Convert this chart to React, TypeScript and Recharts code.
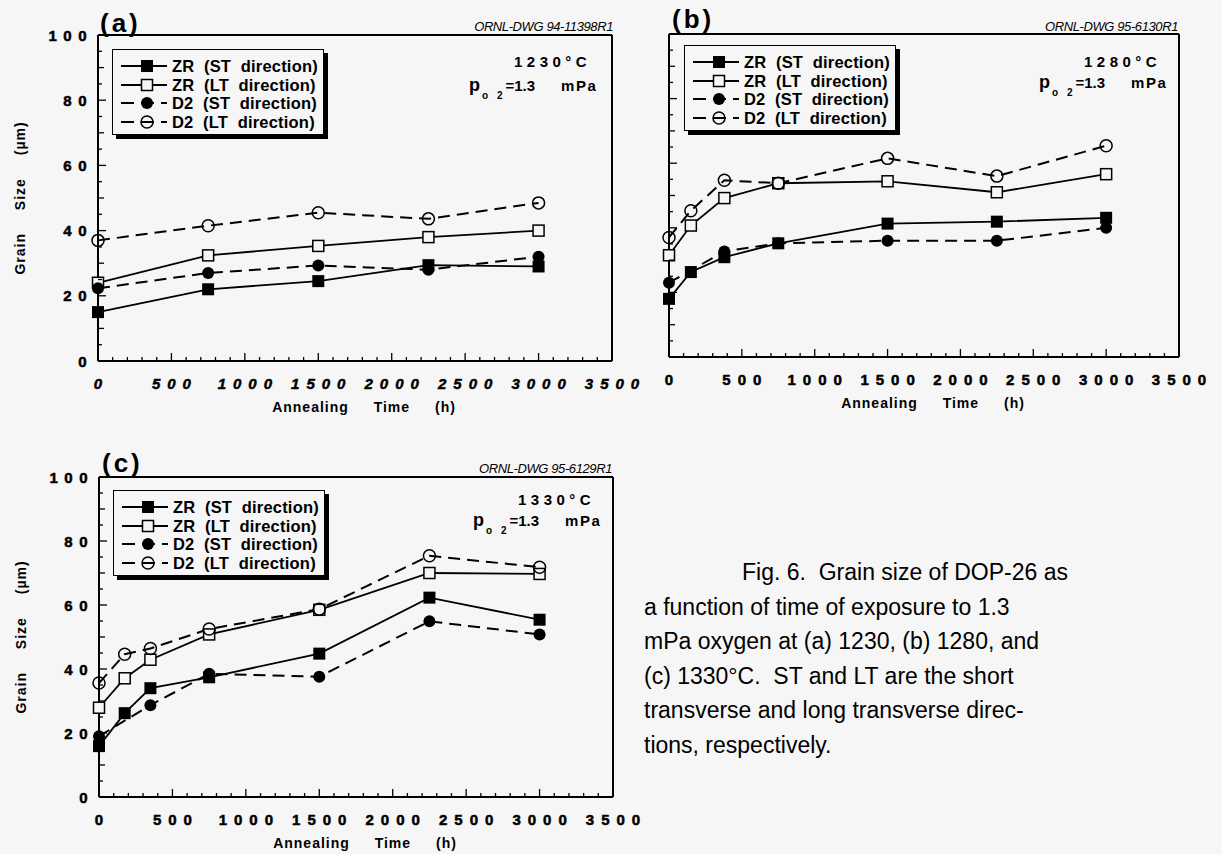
import React from 'react'
import { LineChart, Line, XAxis, YAxis, Legend } from 'recharts'

const BG = '#f6f6f6'
const FONT = '"Liberation Sans", Arial, Helvetica, sans-serif'

// (a) 1230°C
const timesA = [0, 750, 1500, 2250, 3000]
const zrStA = [15, 22, 24.5, 29.4, 29]
const zrLtA = [24, 32.4, 35.3, 38, 40]
const d2StA = [22.3, 27, 29.3, 28, 32]
const d2LtA = [37, 41.5, 45.5, 43.6, 48.5]

// (b) 1280°C
const timesB = [0, 150, 380, 750, 1500, 2250, 3000]
const timesBD2St = [0, 380, 750, 1500, 2250, 3000]
const zrStB = [18, 26.3, 30.9, 35.2, 41.3, 41.9, 43.1]
const zrLtB = [31.5, 40.7, 49.2, 53.8, 54.4, 51, 56.6]
const d2StB = [23, 32.7, 35.2, 36, 36, 40]
const d2LtB = [37, 45.3, 54.7, 53.8, 61.5, 56, 65.4]

// (c) 1330°C
const timesC = [0, 175, 350, 750, 1500, 2250, 3000]
const timesCD2St = [0, 350, 750, 1500, 2250, 3000]
const zrStC = [15.9, 26.2, 34, 37.4, 44.8, 62.3, 55.4]
const zrLtC = [27.9, 37.1, 42.9, 50.8, 58.5, 70, 69.7]
const d2StC = [19, 28.7, 38.5, 37.6, 54.9, 50.8]
const d2LtC = [35.6, 44.6, 46.4, 52.5, 58.7, 75.4, 71.8]

const xLabels = [0, 500, 1000, 1500, 2000, 2500, 3000, 3500]
const yLabels = [0, 20, 40, 60, 80, 100]
const seriesNames = ['ZR  (ST  direction)', 'ZR  (LT  direction)', 'D2  (ST  direction)', 'D2  (LT  direction)']
const markerKinds = ['sqFill', 'sqOpen', 'ciFill', 'ciOpen']
const dashed = [false, false, true, true]

const captionLines = [
  'Fig. 6.  Grain size of DOP-26 as',
  'a function of time of exposure to 1.3',
  'mPa oxygen at (a) 1230, (b) 1280, and',
  '(c) 1330°C.  ST and LT are the short',
  'transverse and long transverse direc-',
  'tions, respectively.',
]

// minor tick positions for the frame
const xTicks: number[] = []
for (let t = 0; t <= 3500; t += 100) xTicks.push(t)
const yTicks: number[] = []
for (let v = 0; v <= 100; v += 5) yTicks.push(v)

const zip = (ts: number[], vs: number[]) => ts.map((t, i) => ({ t, v: vs[i] }))

function Marker({ cx, cy, kind }: any) {
  if (cx == null || cy == null) return null
  if (kind === 'sqFill') return <rect x={cx - 6} y={cy - 6} width={12} height={12} fill="#000" />
  if (kind === 'sqOpen')
    return <rect x={cx - 5.5} y={cy - 5.5} width={11} height={11} fill={BG} stroke="#000" strokeWidth={1.5} />
  if (kind === 'ciFill') return <circle cx={cx} cy={cy} r={6} fill="#000" />
  return <circle cx={cx} cy={cy} r={6} fill="none" stroke="#000" strokeWidth={1.5} />
}

const tickFont = {
  fontFamily: FONT,
  fontWeight: 'bold' as const,
  fontSize: 15,
  fill: '#000',
  stroke: '#000',
  strokeWidth: 0.5,
}

function BottomTick({ x, y, payload, italic }: any) {
  const v = payload.value
  const lab = xLabels.includes(v)
  return (
    <g>
      <line x1={x} x2={x} y1={y} y2={y - (lab ? 8 : 4)} stroke="#000" strokeWidth={1.3} />
      {lab && (
        <text x={x + 3.5} y={y + 28} textAnchor="middle" style={{ ...tickFont, letterSpacing: 7, fontStyle: italic ? 'italic' : 'normal' }}>
          {v}
        </text>
      )}
    </g>
  )
}

function TopTick({ x, y, payload }: any) {
  const major = payload.value % 500 === 0
  return <line x1={x} x2={x} y1={y} y2={y + (major ? 8 : 4)} stroke="#000" strokeWidth={1.3} />
}

function LeftTick({ x, y, payload, showLabels }: any) {
  const v = payload.value
  const lab = yLabels.includes(v)
  const len = lab ? 8 : v % 10 === 0 ? 6 : 4
  return (
    <g>
      <line x1={x} x2={x + len} y1={y} y2={y} stroke="#000" strokeWidth={1.3} />
      {lab && showLabels && (
        <text x={x - 5} y={y + 5.5} textAnchor="end" style={{ ...tickFont, letterSpacing: 6.5 }}>
          {v}
        </text>
      )}
    </g>
  )
}

function RightTick({ x, y, payload }: any) {
  const v = payload.value
  const len = yLabels.includes(v) ? 8 : v % 10 === 0 ? 6 : 4
  return <line x1={x} x2={x - len} y1={y} y2={y} stroke="#000" strokeWidth={1.3} />
}

const titleFont = { fontFamily: FONT, fontWeight: 'bold' as const, fontSize: 14, fill: '#000', letterSpacing: 1 }

function XTitle({ px, py }: any) {
  return (
    <text x={px} y={py} textAnchor="middle" style={{ ...titleFont, wordSpacing: 20 }}>
      Annealing Time (h)
    </text>
  )
}

function YTitle({ px, py }: any) {
  return (
    <text x={px} y={py} textAnchor="middle" dominantBaseline="central" transform={`rotate(-90 ${px} ${py})`} style={{ ...titleFont, wordSpacing: 18 }}>
      Grain Size (µm)
    </text>
  )
}

function LegendBox() {
  return (
    <div
      style={{
        position: 'relative',
        width: 212,
        height: 86,
        boxSizing: 'border-box',
        border: '1.5px solid #000',
        boxShadow: '4px 4px 0 #000',
        background: BG,
      }}
    >
      {seriesNames.map((n, i) => (
        <div key={n} style={{ position: 'absolute', left: 8, top: 16 + i * 18.7 - 9, height: 18, display: 'flex', alignItems: 'center' }}>
          <svg width={48} height={18} style={{ display: 'block' }}>
            <line x1={0} x2={46} y1={9} y2={9} stroke="#000" strokeWidth={dashed[i] ? 2 : 1.8} strokeDasharray={dashed[i] ? '13 7' : undefined} />
            <Marker cx={26} cy={9} kind={markerKinds[i]} />
          </svg>
          <span style={{ fontFamily: FONT, fontWeight: 'bold', fontSize: 16.5, letterSpacing: 0.2, whiteSpace: 'pre', marginLeft: 3, lineHeight: '18px' }}>
            {n}
          </span>
        </div>
      ))}
    </div>
  )
}

type Series = { t: number; v: number }[]

function Panel({ left, top, width, height, plot, yw, showYLabels, xItalic, legendAt, series }: any) {
  const margin = { left: plot.l - yw, top: plot.t - 1, right: width - plot.r - 1, bottom: height - plot.b - 40 }
  const frame = { stroke: '#000', strokeWidth: 2 }
  return (
    <div style={{ position: 'absolute', left, top }}>
      <LineChart width={width} height={height} margin={margin}>
        <XAxis
          dataKey="t"
          type="number"
          domain={[0, 3500]}
          ticks={xTicks}
          interval={0}
          tickSize={0}
          tickMargin={0}
          tickLine={false}
          axisLine={frame}
          height={40}
          tick={<BottomTick italic={xItalic} />}
          label={<XTitle px={(plot.l + plot.r) / 2 + 9} py={plot.b + 51} />}
        />
        <XAxis
          xAxisId="top"
          orientation="top"
          type="number"
          domain={[0, 3500]}
          ticks={xTicks}
          interval={0}
          tickSize={0}
          tickMargin={0}
          tickLine={false}
          axisLine={frame}
          height={1}
          tick={<TopTick />}
        />
        <YAxis
          type="number"
          domain={[0, 100]}
          ticks={yTicks}
          interval={0}
          tickSize={0}
          tickMargin={0}
          tickLine={false}
          axisLine={frame}
          width={yw}
          tick={<LeftTick showLabels={showYLabels} />}
          label={showYLabels ? <YTitle px={plot.l - 78} py={(plot.t + plot.b) / 2} /> : undefined}
        />
        <YAxis
          yAxisId="right"
          orientation="right"
          type="number"
          domain={[0, 100]}
          ticks={yTicks}
          interval={0}
          tickSize={0}
          tickMargin={0}
          tickLine={false}
          axisLine={frame}
          width={1}
          tick={<RightTick />}
        />
        <Legend
          layout="vertical"
          align="center"
          verticalAlign="middle"
          wrapperStyle={{ left: legendAt[0], top: legendAt[1], width: 'auto', height: 'auto' }}
          content={() => <LegendBox />}
        />
        {series.map((s: Series, i: number) => (
          <Line
            key={seriesNames[i]}
            name={seriesNames[i]}
            data={s}
            dataKey="v"
            type="linear"
            stroke="#000"
            strokeWidth={dashed[i] ? 2 : 1.8}
            strokeDasharray={dashed[i] ? '12 7' : undefined}
            dot={(d: any) => <Marker key={`${i}-${d.index}`} cx={d.cx} cy={d.cy} kind={markerKinds[i]} />}
            activeDot={false}
            isAnimationActive={false}
          />
        ))}
      </LineChart>
    </div>
  )
}

function Annot({ left, top, temp, gap }: any) {
  const bold = { fontFamily: FONT, fontWeight: 'bold' as const, color: '#000' }
  return (
    <>
      <div style={{ ...bold, position: 'absolute', left: left + 45, top: top - 9, fontSize: 15, lineHeight: '18px', letterSpacing: 4.5, whiteSpace: 'pre' }}>
        {temp}
      </div>
      <div style={{ ...bold, position: 'absolute', left, top: top + gap - 10, fontSize: 15, lineHeight: '20px', whiteSpace: 'pre' }}>
        <span style={{ fontSize: 18 }}>p</span>
        <span style={{ fontSize: 10, position: 'relative', top: 8, letterSpacing: 3, marginLeft: 2 }}>o 2</span>
        <span>=1.3</span>
        <span style={{ marginLeft: 26, letterSpacing: 1.5 }}>mPa</span>
      </div>
    </>
  )
}

function Tag({ left, top, text }: any) {
  return (
    <div style={{ position: 'absolute', left, top, fontFamily: FONT, fontWeight: 'bold', fontSize: 26, lineHeight: '28px', letterSpacing: 3 }}>
      {text}
    </div>
  )
}

function Dwg({ right, baseline, text }: any) {
  return (
    <div
      style={{
        position: 'absolute',
        left: right - 220,
        width: 220,
        top: baseline - 11.5,
        textAlign: 'right',
        fontFamily: FONT,
        fontStyle: 'italic',
        fontSize: 13,
        lineHeight: '14px',
        letterSpacing: -0.4,
      }}
    >
      {text}
    </div>
  )
}

export default function App() {
  return (
    <div style={{ position: 'absolute', left: 0, top: 0, width: 1222, height: 854, background: BG, overflow: 'hidden', fontFamily: FONT }}>
      <Panel
        left={0}
        top={0}
        width={660}
        height={420}
        plot={{ l: 98, t: 35, r: 612, b: 361 }}
        yw={50}
        showYLabels
        xItalic
        legendAt={[112, 49]}
        series={[zip(timesA, zrStA), zip(timesA, zrLtA), zip(timesA, d2StA), zip(timesA, d2LtA)]}
      />
      <Panel
        left={640}
        top={0}
        width={582}
        height={420}
        plot={{ l: 29, t: 34, r: 539, b: 357 }}
        yw={20}
        showYLabels={false}
        xItalic={false}
        legendAt={[44, 45]}
        series={[zip(timesB, zrStB), zip(timesB, zrLtB), zip(timesBD2St, d2StB), zip(timesB, d2LtB)]}
      />
      <Panel
        left={0}
        top={420}
        width={660}
        height={434}
        plot={{ l: 99, t: 57, r: 613, b: 377 }}
        yw={50}
        showYLabels
        xItalic={false}
        legendAt={[113, 70]}
        series={[zip(timesC, zrStC), zip(timesC, zrLtC), zip(timesCD2St, d2StC), zip(timesC, d2LtC)]}
      />

      <Tag left={100} top={9} text="(a)" />
      <Tag left={672} top={5} text="(b)" />
      <Tag left={102} top={449} text="(c)" />

      <Dwg right={613} baseline={31} text="ORNL-DWG 94-11398R1" />
      <Dwg right={1178} baseline={31} text="ORNL-DWG 95-6130R1" />
      <Dwg right={612} baseline={473} text="ORNL-DWG 95-6129R1" />

      <Annot left={469} top={62} gap={23} temp="1230°C" />
      <Annot left={1039} top={62} gap={20} temp="1280°C" />
      <Annot left={473} top={500} gap={20} temp="1330°C" />

      <div style={{ position: 'absolute', left: 644, top: 555, fontFamily: FONT, fontSize: 23, lineHeight: '34.6px', color: '#000' }}>
        {captionLines.map((l, i) => (
          <div key={i} style={{ whiteSpace: 'pre', paddingLeft: i === 0 ? 98 : 0 }}>
            {l}
          </div>
        ))}
      </div>
    </div>
  )
}
